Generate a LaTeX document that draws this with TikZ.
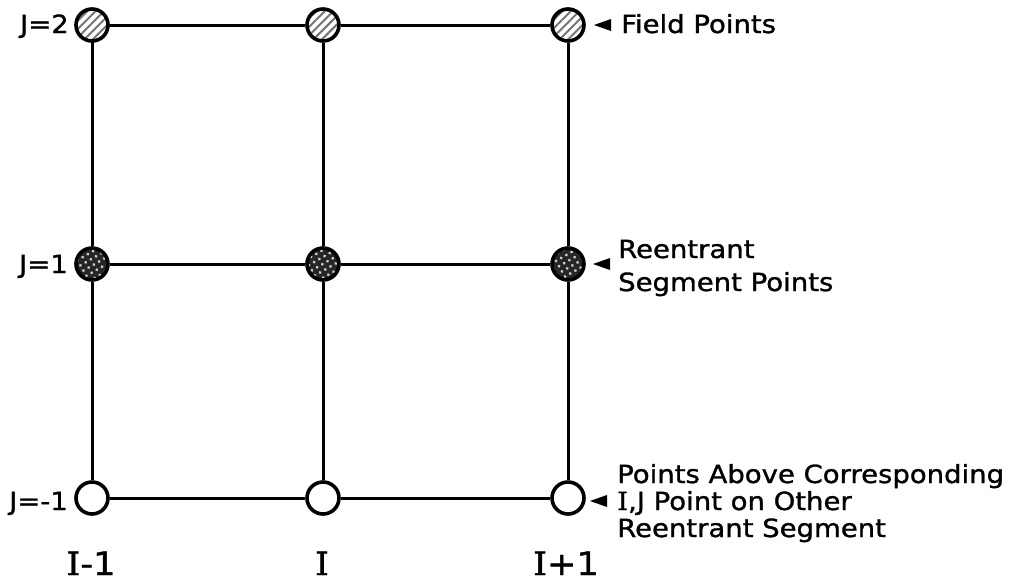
\documentclass[tikz,border=0pt]{standalone}
\usepackage{fontspec}
\setmainfont{DejaVu Sans}[FakeStretch=1.1,FakeBold=1.2]
\newfontfamily\serifI{DejaVu Serif}[FakeStretch=1.1,FakeBold=1.2]
\usetikzlibrary{patterns,patterns.meta}
\begin{document}
\begin{tikzpicture}[x=1pt,y=-1pt,
  gpt/.style={circle, draw=black, line width=3.6pt, minimum size=32pt, inner sep=0pt},
  field/.style={gpt, pattern={Lines[angle=45,distance=6pt,line width=2pt]}, pattern color=black!55},
  reent/.style={gpt, preaction={fill=black!85}, pattern={Dots[distance=6pt,radius=1.6pt,angle=30]}, pattern color=white!80!black},
  open/.style={gpt, fill=white},
  gridline/.style={line width=3pt},
  lab/.style={inner sep=0pt, font=\fontsize{25}{29}\selectfont},
  ilab/.style={inner sep=0pt, font=\fontsize{32}{36}\selectfont, anchor=base},
  tip/.style={fill=black}
]
\useasboundingbox (0,0) rectangle (1020,582);

% grid points
\node[field] (a2) at (92,25) {};
\node[field] (b2) at (323,25) {};
\node[field] (c2) at (568,25) {};
\node[reent] (a1) at (92,264) {};
\node[reent] (b1) at (323,264) {};
\node[reent] (c1) at (568,264) {};
\node[open] (a0) at (92,498) {};
\node[open] (b0) at (323,498) {};
\node[open] (c0) at (568,498) {};

% grid lines
\draw[gridline] (a2) -- (b2);
\draw[gridline] (b2) -- (c2);
\draw[gridline] (a1) -- (b1);
\draw[gridline] (b1) -- (c1);
\draw[gridline] (a0) -- (b0);
\draw[gridline] (b0) -- (c0);
\draw[gridline] (a2) -- (a1);
\draw[gridline] (a1) -- (a0);
\draw[gridline] (b2) -- (b1);
\draw[gridline] (b1) -- (b0);
\draw[gridline] (c2) -- (c1);
\draw[gridline] (c1) -- (c0);

% left labels
\node[lab, anchor=base east] (j2) at (69,33) {J=2};
\node[lab, anchor=base east] (j1) at (68,273) {J=1};
\node[lab, anchor=base east] (jm1) at (68,510) {J=-1};

% bottom labels
\node[ilab] (im1) at (91,575) {{\serifI I}-1};
\node[ilab] (i0) at (322,575) {{\serifI I}};
\node[ilab] (ip1) at (566,575) {{\serifI I}+1};

% pointer triangles
\coordinate (t2) at (594,25);
\coordinate (t1) at (593,264);
\coordinate (t0) at (590,501);
\fill[tip] (t2) -- ++(17,-6) -- ++(0,12) -- cycle;
\fill[tip] (t1) -- ++(17,-6) -- ++(0,12) -- cycle;
\fill[tip] (t0) -- ++(17,-6) -- ++(0,12) -- cycle;

% right labels
\node[lab, anchor=base west] (fp) at (621,33) {Field Points};
\node[lab, anchor=base west] (re1) at (618,258) {Reentrant};
\node[lab, anchor=base west] (re2) at (618,291) {Segment Points};
\node[lab, anchor=base west] (pa1) at (617,483) {Points Above Corresponding};
\node[lab, anchor=base west] (pa2) at (617,510) {{\serifI I},J Point on Other};
\node[lab, anchor=base west] (pa3) at (617,537) {Reentrant Segment};
\end{tikzpicture}
\end{document}
